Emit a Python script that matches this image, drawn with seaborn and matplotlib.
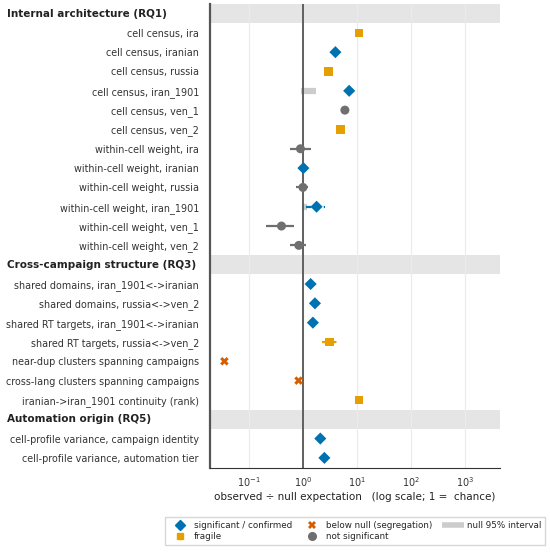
import numpy as np
import pandas as pd
import matplotlib
matplotlib.use("Agg")
import matplotlib.pyplot as plt
from matplotlib.lines import Line2D
import seaborn as sns

# ---------------- data ----------------
sections = ["Internal architecture (RQ1)",
            "Cross-campaign structure (RQ3)",
            "Automation origin (RQ5)"]

test_labels = [
    "cell census, ira", "cell census, iranian", "cell census, russia",
    "cell census, iran_1901", "cell census, ven_1", "cell census, ven_2",
    "within-cell weight, ira", "within-cell weight, iranian",
    "within-cell weight, russia", "within-cell weight, iran_1901",
    "within-cell weight, ven_1", "within-cell weight, ven_2",
    "shared domains, iran_1901<->iranian", "shared domains, russia<->ven_2",
    "shared RT targets, iran_1901<->iranian", "shared RT targets, russia<->ven_2",
    "near-dup clusters spanning campaigns", "cross-lang clusters spanning campaigns",
    "iranian->iran_1901 continuity (rank)",
    "cell-profile variance, campaign identity",
    "cell-profile variance, automation tier",
]
test_section = [0] * 12 + [1] * 7 + [2] * 2

estimates = [11.0, 4.0, 3.0, 7.2, 6.0, 5.0,
             0.90, 1.02, 1.00, 1.79, 0.40, 0.84,
             1.39, 1.67, 1.53, 3.1, 0.035, 0.83, 11.0,
             2.1, 2.5]
nan = np.nan
ci_lo = [nan, nan, nan, nan, nan, nan,
         0.57, nan, 0.75, 1.16, 0.21, 0.57,
         nan, nan, nan, 2.3, nan, nan, nan,
         nan, nan]
ci_hi = [nan, nan, nan, nan, nan, nan,
         1.43, nan, 1.24, 2.56, 0.69, 1.15,
         nan, nan, nan, 4.4, nan, nan, nan,
         nan, nan]
null_lo = [nan, nan, nan, 0.91, nan, nan,
           nan, nan, nan, 0.97, nan, nan,
           nan, nan, nan, nan, nan, nan, nan,
           nan, nan]
null_hi = [nan, nan, nan, 1.77, nan, nan,
           nan, nan, nan, 1.18, nan, nan,
           nan, nan, nan, nan, nan, nan, nan,
           nan, nan]
status = ["fragile", "significant", "fragile", "significant", "not", "fragile",
          "not", "significant", "not", "significant", "not", "not",
          "significant", "significant", "significant", "fragile", "below", "below", "fragile",
          "significant", "significant"]

status_names = {"significant": "significant / confirmed",
                "fragile": "fragile",
                "below": "below null (segregation)",
                "not": "not significant"}
palette = {"significant": "#0072B2", "fragile": "#E69F00",
           "below": "#D55E00", "not": "#6f6f6f"}
markers = {"significant": "D", "fragile": "s", "below": "X", "not": "o"}
sizes = {"significant": 38, "fragile": 38, "below": 38, "not": 42}

# ---------------- layout rows ----------------
rows_y = []
header_y = []
y = 0
for s_idx, sec in enumerate(sections):
    header_y.append(y)
    y += 1
    for i, sec_i in enumerate(test_section):
        if sec_i == s_idx:
            rows_y.append(y)
            y += 1
n_rows = y

df = pd.DataFrame({"label": test_labels, "y": rows_y, "est": estimates,
                   "lo": ci_lo, "hi": ci_hi, "nlo": null_lo, "nhi": null_hi,
                   "status": status})

sns.set_style("white")
plt.rcParams["font.family"] = ["DejaVu Sans"]

fig = plt.figure(figsize=(5.5, 5.52), dpi=100)
ax = fig.add_axes([0.382, 0.153, 0.527, 0.840])

ax.set_xscale("log")
ax.set_xlim(0.019, 4500)
ax.set_ylim(n_rows - 0.5, -0.5)

# header bands
for hy in header_y:
    ax.axhspan(hy - 0.5, hy + 0.5, color="#e5e5e5", zorder=0, lw=0)

ax.grid(axis="x", which="major", color="#ebebeb", lw=0.8, zorder=0.5)
ax.set_axisbelow(True)

# null intervals
nd = df.dropna(subset=["nlo"])
ax.hlines(nd["y"], nd["nlo"], nd["nhi"], color="#cccccc", lw=4.5, zorder=1)

ax.axvline(1.0, color="#555555", lw=1.3, zorder=1.5)

# CIs
for _, r in df.dropna(subset=["lo"]).iterrows():
    ls = "-" if r["status"] == "not" else (0, (2.5, 1.5))
    ax.hlines(r["y"], r["lo"], r["hi"], color=palette[r["status"]], lw=1.6,
              linestyles=[ls], zorder=2)

sns.scatterplot(data=df, x="est", y="y", hue="status", style="status",
                palette=palette, markers=markers, size="status", sizes=sizes,
                legend=False, linewidth=0, ax=ax, zorder=3)

ax.set_yticks(df["y"])
ax.set_yticklabels(df["label"])
ax.tick_params(axis="y", length=0, pad=8, labelsize=6.9, labelcolor="#333333")
ax.tick_params(axis="x", which="major", length=3.5, pad=2, labelsize=7, labelcolor="#333333")
ax.tick_params(axis="x", which="minor", length=2)
ax.set_ylabel("")
ax.set_xlabel("observed \u00f7 null expectation   (log scale; 1 =  chance)",
              fontsize=7.5, color="#222222", labelpad=2)

for sp in ["top", "right"]:
    ax.spines[sp].set_visible(False)
ax.spines["left"].set_color("#555555")
ax.spines["left"].set_linewidth(1.6)
ax.spines["bottom"].set_color("#333333")
ax.spines["bottom"].set_linewidth(0.8)

# section headers
trans = matplotlib.transforms.blended_transform_factory(fig.transFigure, ax.transData)
for sec, hy in zip(sections, header_y):
    ax.text(0.012, hy, sec, transform=trans, ha="left", va="center",
            fontsize=7.5, fontweight="bold", color="#222222")

# legend
handles = [
    Line2D([], [], ls="", marker="D", color=palette["significant"], ms=5,
           label=status_names["significant"]),
    Line2D([], [], ls="", marker="s", color=palette["fragile"], ms=5,
           label=status_names["fragile"]),
    Line2D([], [], ls="", marker="X", color=palette["below"], ms=6,
           markeredgewidth=0, label=status_names["below"]),
    Line2D([], [], ls="", marker="o", color=palette["not"], ms=5.5,
           label=status_names["not"]),
    Line2D([], [], ls="-", color="#cccccc", lw=4, solid_capstyle="butt",
           label="null 95% interval"),
]
fig.legend(handles=handles, loc="center", bbox_to_anchor=(0.6455, 0.038),
           ncol=3, fontsize=6.3, frameon=True, edgecolor="#cccccc",
           handlelength=2.6, columnspacing=1.0, handletextpad=0.3,
           borderpad=0.45, labelspacing=0.3, fancybox=False)

fig.savefig("out.png", dpi=100)
